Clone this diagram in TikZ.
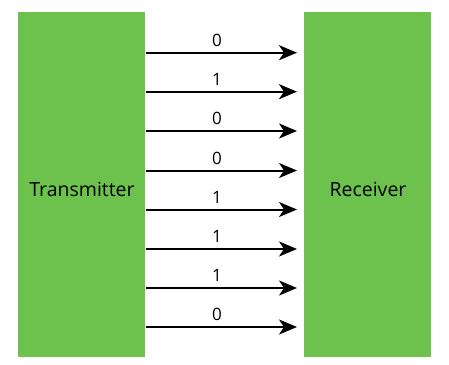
\documentclass[tikz,border=0pt]{standalone}
\usepackage{fontspec}
\setmainfont{Open Sans}
\usetikzlibrary{arrows.meta}
\definecolor{boxgreen}{RGB}{108,194,76}
\tikzset{
  unitbox/.style={fill=boxgreen, draw=none, minimum width=127pt, minimum height=345pt, inner sep=0pt},
  boxtext/.style={anchor=base, inner sep=0pt, font=\fontsize{19.5}{22}\selectfont},
  bitarrow/.style={-{Stealth[length=18pt,width=15pt,inset=5pt]}, line width=2pt, black},
  bitlabel/.style={anchor=base, inner sep=0pt, font=\fontsize{17}{20}\selectfont}
}
\begin{document}
\begin{tikzpicture}[x=1pt,y=-1pt]
\useasboundingbox (0,0) rectangle (449,364);
\fill[white] (0,0) rectangle (449,364);
\node[unitbox] (tx) at (81.5,184.5) {};
\node[unitbox] (rx) at (367.5,184.5) {};
\node[boxtext] (txl) at (82,196.7) {Transmitter};
\node[boxtext] (rxl) at (368,196.7) {Receiver};
\foreach \y/\b [count=\i] in {52.7/0, 91.7/1, 131/0, 170.5/0, 209.5/1, 249/1, 288/1, 327/0} {
  \coordinate (s\i) at (146,\y);
  \coordinate (e\i) at (297,\y);
  \draw[bitarrow] (s\i) -- (e\i);
  \node[bitlabel] (b\i) at (217,\y-6.5) {\b};
}
\end{tikzpicture}
\end{document}
